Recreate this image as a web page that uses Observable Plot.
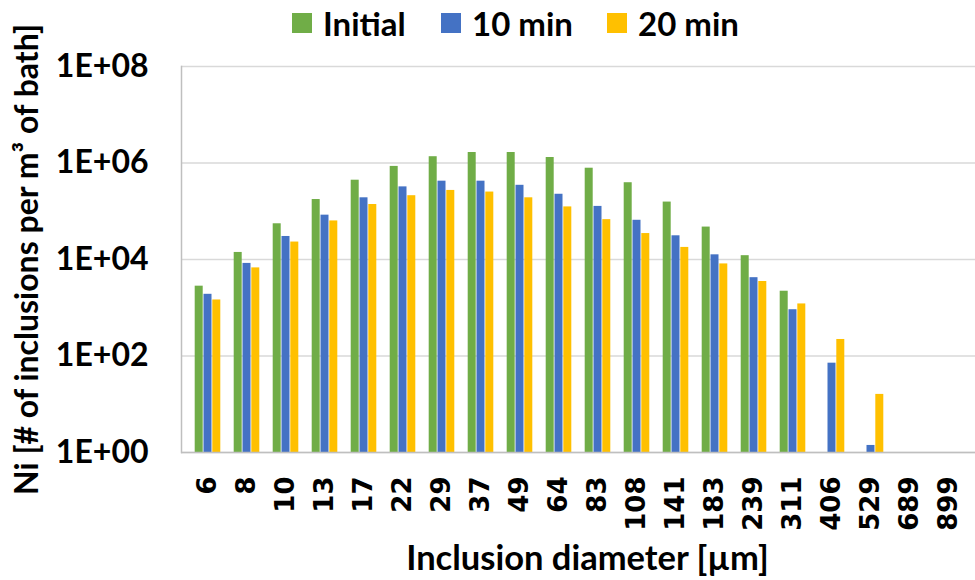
<!DOCTYPE html>
<html>
<head>
<meta charset="utf-8">
<script src="https://cdn.jsdelivr.net/npm/d3@7"></script>
<script src="https://cdn.jsdelivr.net/npm/@observablehq/plot@0.6"></script>
<style>
  html, body { margin: 0; padding: 0; background: #fff; }
  #wrap { width: 975px; height: 580px; position: relative; overflow: hidden; }
  #legend { height: 44px; position: relative; font-family: Lato, "Open Sans", sans-serif; font-weight: bold; font-size: 33px; color: #000; }
  .item { position: absolute; top: 1px; height: 44px; display: flex; align-items: center; }
  .sw { width: 20px; height: 20px; margin-right: 11px; }
  svg { display: block; overflow: visible; }
</style>
</head>
<body>
<div id="wrap">
  <div id="legend"></div>
  <div id="chart"></div>
</div>
<script>
const diameters = ["6","8","10","13","17","22","29","37","49","64","83","108","141","183","239","311","406","529","689","899"];
const seriesNames = ["Initial", "10 min", "20 min"];
const seriesColors = ["#70AD47", "#4472C4", "#FFC000"];
const initialValues = [2.8e3, 1.4e4, 5.5e4, 1.75e5, 4.4e5, 8.5e5, 1.35e6, 1.65e6, 1.65e6, 1.3e6, 7.8e5, 3.9e5, 1.55e5, 4.7e4, 1.2e4, 2.2e3, 0, 0, 0, 0];
const min10Values = [1.9e3, 8.3e3, 3.0e4, 8.3e4, 1.9e5, 3.2e5, 4.2e5, 4.2e5, 3.45e5, 2.25e5, 1.26e5, 6.5e4, 3.1e4, 1.25e4, 4.2e3, 9.1e2, 71, 1.4, 0, 0];
const min20Values = [1.45e3, 6.7e3, 2.3e4, 6.3e4, 1.38e5, 2.1e5, 2.7e5, 2.5e5, 1.9e5, 1.23e5, 6.7e4, 3.45e4, 1.78e4, 8.1e3, 3.5e3, 1.2e3, 220, 16, 0, 0];
const yTicks = [1, 1e2, 1e4, 1e6, 1e8];
const yTickLabels = ["1E+00", "1E+02", "1E+04", "1E+06", "1E+08"];

const seriesValues = [initialValues, min10Values, min20Values];
const rows = [];
seriesNames.forEach((s, si) => {
  diameters.forEach((d, di) => {
    const v = seriesValues[si][di];
    if (v > 0) rows.push({diameter: d, series: s, value: v});
  });
});

// legend
const legendPos = [292, 441, 607];
const legend = document.getElementById("legend");
seriesNames.forEach((s, i) => {
  const it = document.createElement("div");
  it.className = "item";
  it.style.left = legendPos[i] + "px";
  it.innerHTML = `<div class="sw" style="background:${seriesColors[i]}"></div><span>${s}</span>`;
  legend.appendChild(it);
});

const barStep = 8.8;
const labelFont = "Lato, 'Open Sans', sans-serif";

const chart = Plot.plot({
  width: 975,
  height: 536,
  marginTop: 22,
  marginBottom: 128,
  marginLeft: 181,
  marginRight: 0,
  style: {fontFamily: labelFont, fontWeight: "bold", color: "#000", background: "#fff", overflow: "visible"},
  x: {type: "band", domain: diameters, paddingInner: 1 - barStep / 39.7, paddingOuter: (1 - barStep / 39.7) / 2, label: null},
  y: {type: "log", domain: [1, 1e8], label: null},
  color: {domain: seriesNames, range: seriesColors},
  marks: [
    Plot.gridY(yTicks, {stroke: "#D9D9D9", strokeOpacity: 1, strokeWidth: 1.5}),
    ...seriesNames.map((s, i) => Plot.barY(rows.filter(r => r.series === s), {
      x: "diameter", y1: 1, y2: "value", fill: "series",
      dx: (i - 1) * barStep, insetLeft: 0.5, insetRight: 0.5
    })),
    Plot.ruleY([1], {stroke: "#BFBFBF", strokeWidth: 1.5}),
    Plot.frame({anchor: "left", stroke: "#BFBFBF", strokeWidth: 1.5}),
    Plot.axisY(yTicks, {tickSize: 0, tickPadding: 33, tickFormat: (d) => yTickLabels[yTicks.indexOf(d)], fontSize: 32, fontFamily: labelFont, fontWeight: "bold", label: null}),
    Plot.axisX({tickSize: 0, tickRotate: -90, tickPadding: 24, fontSize: 26, fontFamily: "'DejaVu Sans', Verdana, sans-serif", fontWeight: "bold", label: null}),
    Plot.text(["Ni [# of inclusions per m³ of bath]"], {frameAnchor: "left", textAnchor: "middle", rotate: -90, dx: -154, fontSize: 32, fontWeight: "bold", fontFamily: labelFont, fill: "#000"}),
    Plot.text(["Inclusion diameter [µm]"], {frameAnchor: "bottom", dx: 9, dy: 117, fontSize: 34.5, fontWeight: "bold", fontFamily: labelFont, fill: "#000"})
  ]
});
document.getElementById("chart").appendChild(chart);
</script>
</body>
</html>
